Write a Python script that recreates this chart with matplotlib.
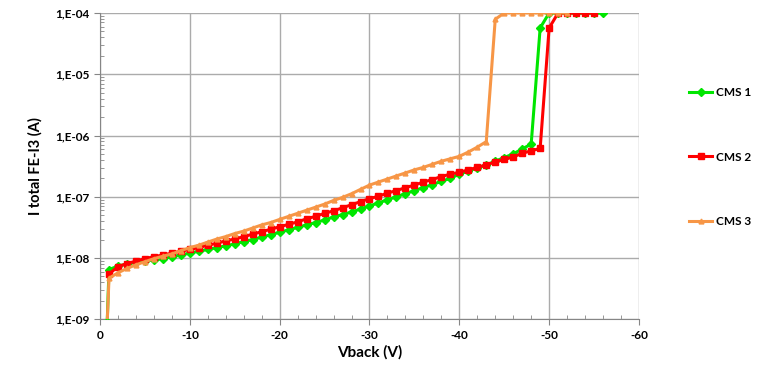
import math
import matplotlib
matplotlib.use('Agg')
import matplotlib.pyplot as plt
from matplotlib.ticker import FixedLocator, FuncFormatter, LogLocator, NullFormatter

plt.rcParams['font.family'] = ['Lato', 'DejaVu Sans']
plt.rcParams['axes.unicode_minus'] = False

#back voltage steps (V)
v_cms1 = [-0.8, -1, -2, -3, -4, -5, -6, -7, -8, -9, -10, -11, -12, -13, -14,
          -15, -16, -17, -18, -19, -20, -21, -22, -23, -24, -25, -26, -27,
          -28, -29, -30, -31, -32, -33, -34, -35, -36, -37, -38, -39, -40,
          -41, -42, -43, -44, -45, -46, -47, -48, -49, -50, -51, -52, -53,
          -54, -55, -56]
i_cms1 = [9e-10, 6.46e-9, 7.41e-9, 7.94e-9, 8.51e-9, 8.91e-9, 9.33e-9,
          9.77e-9, 1.05e-8, 1.12e-8, 1.20e-8, 1.29e-8, 1.38e-8, 1.48e-8,
          1.58e-8, 1.70e-8, 1.86e-8, 2.00e-8, 2.19e-8, 2.40e-8, 2.63e-8,
          2.88e-8, 3.16e-8, 3.47e-8, 3.80e-8, 4.17e-8, 4.68e-8, 5.13e-8,
          5.62e-8, 6.31e-8, 7.08e-8, 7.94e-8, 8.91e-8, 1.00e-7, 1.12e-7,
          1.26e-7, 1.41e-7, 1.58e-7, 1.78e-7, 2.00e-7, 2.34e-7, 2.63e-7,
          2.95e-7, 3.31e-7, 3.80e-7, 4.37e-7, 5.01e-7, 6.03e-7, 7.24e-7,
          5.7e-5, 1e-4, 1e-4, 1e-4, 1e-4, 1e-4, 1e-4, 1e-4]

v_cms2 = [-1, -2, -3, -4, -5, -6, -7, -8, -9, -10, -11, -12, -13, -14, -15,
          -16, -17, -18, -19, -20, -21, -22, -23, -24, -25, -26, -27, -28,
          -29, -30, -31, -32, -33, -34, -35, -36, -37, -38, -39, -40, -41,
          -42, -43, -44, -45, -46, -47, -48, -49, -50, -51, -52, -53, -54,
          -55]
i_cms2 = [5.50e-9, 7.24e-9, 8.13e-9, 8.91e-9, 9.77e-9, 1.05e-8, 1.12e-8,
          1.20e-8, 1.29e-8, 1.38e-8, 1.48e-8, 1.62e-8, 1.74e-8, 1.91e-8,
          2.04e-8, 2.24e-8, 2.45e-8, 2.69e-8, 2.95e-8, 3.24e-8, 3.55e-8,
          3.89e-8, 4.37e-8, 4.79e-8, 5.37e-8, 5.89e-8, 6.61e-8, 7.41e-8,
          8.32e-8, 9.33e-8, 1.02e-7, 1.15e-7, 1.26e-7, 1.41e-7, 1.55e-7,
          1.74e-7, 1.91e-7, 2.14e-7, 2.34e-7, 2.51e-7, 2.75e-7, 3.02e-7,
          3.31e-7, 3.72e-7, 4.07e-7, 4.47e-7, 5.13e-7, 5.62e-7, 6.17e-7,
          5.7e-5, 1e-4, 1e-4, 1e-4, 1e-4, 1e-4]

v_cms3 = [-0.8, -1, -2, -3, -4, -5, -6, -7, -8, -9, -10, -11, -12, -13, -14,
          -15, -16, -17, -18, -19, -20, -21, -22, -23, -24, -25, -26, -27,
          -28, -29, -30, -31, -32, -33, -34, -35, -36, -37, -38, -39, -40,
          -41, -42, -43, -44, -45, -46, -47, -48, -49, -50, -51, -52]
i_cms3 = [9e-10, 4.68e-9, 5.75e-9, 6.76e-9, 7.76e-9, 8.71e-9, 9.77e-9,
          1.07e-8, 1.17e-8, 1.32e-8, 1.48e-8, 1.62e-8, 1.82e-8, 2.04e-8,
          2.24e-8, 2.51e-8, 2.75e-8, 3.09e-8, 3.47e-8, 3.80e-8, 4.27e-8,
          4.79e-8, 5.37e-8, 6.03e-8, 6.76e-8, 7.59e-8, 8.71e-8, 9.77e-8,
          1.12e-7, 1.32e-7, 1.55e-7, 1.74e-7, 1.95e-7, 2.19e-7, 2.45e-7,
          2.75e-7, 3.02e-7, 3.39e-7, 3.80e-7, 4.17e-7, 4.57e-7, 5.37e-7,
          6.46e-7, 7.94e-7, 7.9e-5, 1e-4, 1e-4, 1e-4, 1e-4, 1e-4, 1e-4,
          1e-4, 1e-4]

x_ticks = [0, -10, -20, -30, -40, -50, -60]
y_ticks = [1e-9, 1e-8, 1e-7, 1e-6, 1e-5, 1e-4]

#Excel style labels: 1,E-04
def sci_comma(val, pos):
    exp = int(round(math.log10(val)))
    return '1,E-%02d' % abs(exp)

fig = plt.figure(figsize=(7.73, 3.67), dpi=100)
ax = fig.add_axes([0.1294, 0.130, 0.6972, 0.8346])

ax.plot(v_cms1, i_cms1, color='#00E600', lw=2.2, marker='D', ms=4.5,
        label='CMS 1', zorder=3)
ax.plot(v_cms2, i_cms2, color='#FF0000', lw=2.2, marker='s', ms=4,
        label='CMS 2', zorder=4)
ax.plot(v_cms3, i_cms3, color='#F79646', lw=2.2, marker='^', ms=3.5,
        label='CMS 3', zorder=5)

ax.set_yscale('log')
ax.set_xlim(0, -60)
ax.set_ylim(1e-9, 1e-4)
ax.xaxis.set_major_locator(FixedLocator(x_ticks))
ax.xaxis.set_minor_locator(FixedLocator(list(range(0, -61, -2))))
ax.yaxis.set_major_locator(FixedLocator(y_ticks))
ax.yaxis.set_minor_locator(LogLocator(base=10, subs=range(2, 10)))
ax.yaxis.set_major_formatter(FuncFormatter(sci_comma))
ax.yaxis.set_minor_formatter(NullFormatter())

ax.grid(which='major', color='#ababab', lw=1)
for s in ['top', 'right']:
    ax.spines[s].set_visible(False)
for s in ['left', 'bottom']:
    ax.spines[s].set_color('#868686')
ax.tick_params(which='major', direction='out', length=4, color='#868686',
               labelsize=8.5)
ax.tick_params(which='minor', direction='in', length=3, color='#868686')
for lbl in ax.get_xticklabels() + ax.get_yticklabels():
    lbl.set_fontweight('bold')

ax.set_xlabel('Vback (V)', fontsize=11, fontweight='bold', labelpad=3)
ax.set_ylabel('I total FE-I3 (A)', fontsize=10.5, fontweight='bold',
              labelpad=9)

fig.legend(loc='center left', bbox_to_anchor=(0.885, 0.572), frameon=False,
           prop={'weight': 'bold', 'size': 8.5}, labelspacing=4.5,
           handlelength=2.0, handletextpad=0.3, borderaxespad=0)

fig.savefig('out.png', dpi=100)
